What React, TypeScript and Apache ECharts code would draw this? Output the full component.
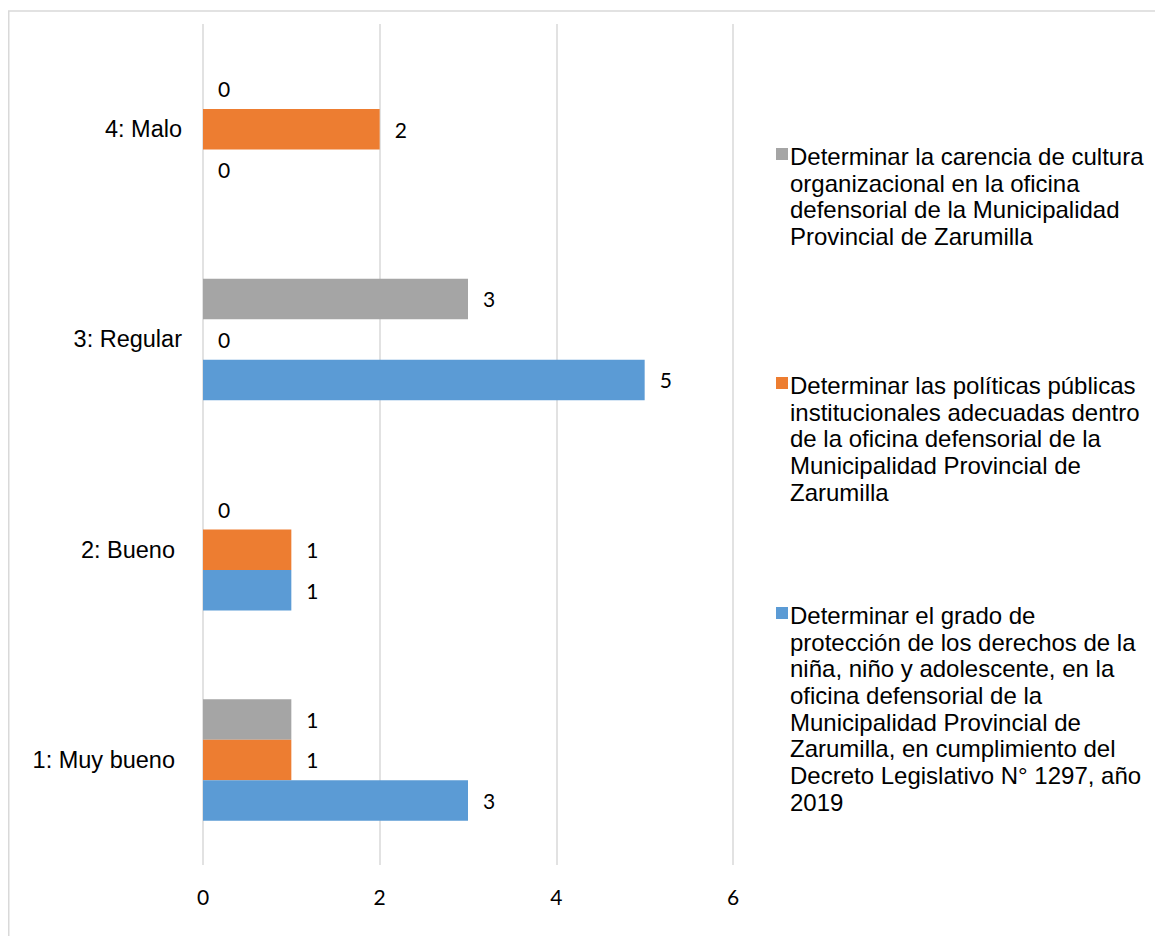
import React, { useEffect, useRef } from "react";
import * as echarts from "echarts";

const categories = ["1: Muy bueno", "2: Bueno", "3: Regular", "4: Malo"];

const grayName =
  "Determinar la carencia de cultura organizacional en la oficina defensorial de la Municipalidad Provincial de Zarumilla";
const orangeName =
  "Determinar las políticas públicas institucionales adecuadas dentro de la oficina defensorial de la Municipalidad Provincial de Zarumilla";
const blueName =
  "Determinar el grado de protección de los derechos de la niña, niño y adolescente, en la oficina defensorial de la Municipalidad Provincial de Zarumilla, en cumplimiento del Decreto Legislativo N° 1297, año 2019";

const grayValues = [1, 0, 3, 0];
const orangeValues = [1, 1, 0, 2];
const blueValues = [3, 1, 5, 0];

const xMin = 0;
const xMax = 6;
const xInterval = 2;

const grayLegendLines = [
  "Determinar la carencia de cultura",
  "organizacional en la oficina",
  "defensorial de la Municipalidad",
  "Provincial de Zarumilla",
];
const orangeLegendLines = [
  "Determinar las políticas públicas",
  "institucionales adecuadas dentro",
  "de la oficina defensorial de la",
  "Municipalidad Provincial de",
  "Zarumilla",
];
const blueLegendLines = [
  "Determinar el grado de",
  "protección de los derechos de la",
  "niña, niño y adolescente, en la",
  "oficina defensorial de la",
  "Municipalidad Provincial de",
  "Zarumilla, en cumplimiento del",
  "Decreto Legislativo N° 1297, año",
  "2019",
];

const GRAY = "#a5a5a5";
const ORANGE = "#ed7d31";
const BLUE = "#5b9bd5";

export default function App() {
  const ref = useRef<HTMLDivElement>(null);

  useEffect(() => {
    if (!ref.current) return;
    const chart = echarts.init(ref.current, undefined, { renderer: "svg" });

    const labelFont = {
      fontFamily: "Lato",
      fontSize: 21,
      color: "#000",
    };

    const catFont = {
      fontFamily: "Liberation Sans",
      fontSize: 23.5,
      color: "#000",
    };

    const mkSeries = (name: string, data: number[], color: string) => ({
      name,
      type: "bar",
      data,
      barWidth: 40.5,
      barGap: "0%",
      itemStyle: { color },
      label: {
        show: true,
        position: "right",
        distance: 15,
        ...labelFont,
      },
    });

    const legendItems = [
      { lines: grayLegendLines, color: GRAY, y: 135 },
      { lines: orangeLegendLines, color: ORANGE, y: 364 },
      { lines: blueLegendLines, color: BLUE, y: 594 },
    ];

    chart.setOption({
      animation: false,
      backgroundColor: "#fff",
      grid: { left: 195, top: 16, width: 530, height: 841, containLabel: false },
      xAxis: {
        type: "value",
        min: xMin,
        max: xMax,
        interval: xInterval,
        axisLine: { show: false },
        axisTick: { show: false },
        splitLine: { show: true, lineStyle: { color: "#d9d9d9", width: 1.5 } },
        axisLabel: { margin: 21, ...labelFont },
      },
      yAxis: {
        type: "category",
        data: categories,
        axisLine: { show: false },
        axisTick: { show: false },
        axisLabel: {
          margin: 21,
          ...catFont,
          formatter: (v: string, i: number) => (i < 2 ? `{p|${v}}` : `{n|${v}}`),
          rich: {
            p: { ...catFont, padding: [0, 7, 0, 0] },
            n: { ...catFont },
          },
        },
      },
      series: [
        mkSeries(grayName, grayValues, GRAY),
        mkSeries(orangeName, orangeValues, ORANGE),
        mkSeries(blueName, blueValues, BLUE),
      ],
      graphic: [
        {
          type: "rect",
          silent: true,
          shape: { x: 0.75, y: 3, width: 2000, height: 2000 },
          style: { fill: "none", stroke: "#d9d9d9", lineWidth: 1.5 },
          z: -1,
        },
        ...legendItems.map((it) => ({
          type: "group",
          x: 768,
          y: it.y,
          children: [
            {
              type: "rect",
              shape: { x: 0, y: 5, width: 12, height: 12 },
              style: { fill: it.color },
            },
            {
              type: "text",
              x: 14,
              y: 0,
              style: {
                text: it.lines.join("\n"),
                fontFamily: "Liberation Sans",
                fontSize: 24,
                lineHeight: 26.67,
                fill: "#000",
                verticalAlign: "top",
                align: "left",
              },
            },
          ],
        })),
      ],
    });

    return () => chart.dispose();
  }, []);

  return <div ref={ref} style={{ width: 1155, height: 928 }} />;
}
